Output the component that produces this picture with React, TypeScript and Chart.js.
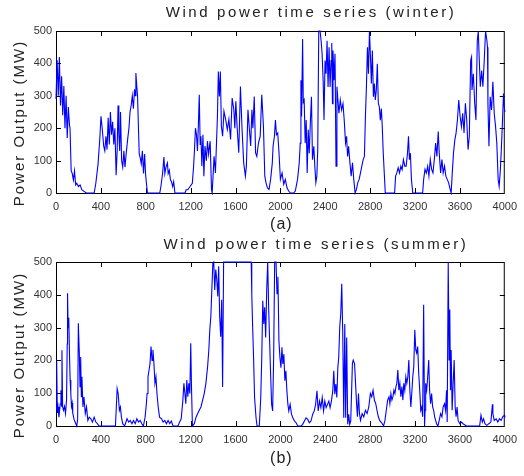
import React, { useEffect, useRef } from "react";
import { Chart, registerables } from "chart.js";
Chart.register(...registerables);

const FONT = '"Liberation Sans", Arial, Helvetica, sans-serif';

const xTickValues = [0, 400, 800, 1200, 1600, 2000, 2400, 2800, 3200, 3600, 4000];
const yTickValues = [0, 100, 200, 300, 400, 500];

const winterTitle = "Wind power time series (winter)";
const summerTitle = "Wind power time series (summer)";
const yAxisTitle = "Power Output (MW)";

const winterT = [
  0, 10, 20, 30, 40, 50, 60, 70, 80, 90, 100, 110, 120, 125, 135, 145, 155, 165, 175, 185,
  200, 215, 230, 250, 270, 340, 355, 375, 390, 401, 413, 425, 435, 445, 455, 465, 475, 485, 495, 505,
  515, 525, 536, 545, 553, 560, 568, 575, 585, 595, 605, 615, 625, 640, 650, 660, 670, 680, 690, 700,
  706, 712, 720, 727, 735, 742, 750, 760, 770, 780, 790, 798, 806, 815, 925, 935, 950, 962, 970, 980,
  993, 1000, 1010, 1020, 1028, 1040, 1049, 1060, 1150, 1160, 1175, 1195, 1215, 1226, 1234, 1243, 1252, 1261, 1270, 1277,
  1285, 1292, 1300, 1310, 1318, 1328, 1340, 1350, 1360, 1374, 1386, 1392, 1409, 1421, 1439, 1447, 1456, 1465, 1474, 1485,
  1497, 1512, 1527, 1541, 1556, 1570, 1585, 1594, 1603, 1614, 1629, 1644, 1658, 1673, 1688, 1697, 1711, 1723, 1735, 1746,
  1755, 1767, 1779, 1790, 1805, 1820, 1834, 1849, 1861, 1872, 1884, 1899, 1913, 1928, 1935, 1947, 1956, 1965, 1976, 1988,
  2000, 2015, 2030, 2044, 2059, 2074, 2089, 2118, 2133, 2153, 2168, 2177, 2183, 2189, 2198, 2204, 2212, 2221, 2230, 2239,
  2248, 2257, 2268, 2277, 2286, 2298, 2307, 2316, 2325, 2333, 2342, 2354, 2363, 2372, 2381, 2389, 2398, 2407, 2416, 2425,
  2434, 2443, 2452, 2458, 2464, 2469, 2478, 2487, 2496, 2504, 2513, 2522, 2534, 2546, 2558, 2569, 2581, 2590, 2599, 2608,
  2620, 2631, 2643, 2654, 2666, 2678, 2690, 2702, 2714, 2726, 2738, 2749, 2758, 2767, 2776, 2785, 2794, 2802, 2811, 2820,
  2829, 2838, 2846, 2855, 2864, 2873, 2882, 2891, 2900, 2908, 2917, 2926, 2935, 3018, 3027, 3038, 3050, 3062, 3074, 3085,
  3097, 3109, 3121, 3133, 3142, 3150, 3159, 3168, 3180, 3268, 3277, 3289, 3301, 3313, 3324, 3336, 3348, 3360, 3372, 3384,
  3395, 3407, 3416, 3428, 3440, 3451, 3463, 3475, 3487, 3499, 3510, 3522, 3534, 3543, 3555, 3566, 3578, 3590, 3602, 3614,
  3625, 3637, 3649, 3661, 3673, 3684, 3696, 3704, 3708, 3720, 3732, 3743, 3755, 3764, 3773, 3782, 3794, 3805, 3817, 3829,
  3841, 3846, 3850, 3859, 3870, 3882, 3894, 3906, 3918, 3929, 3941, 3950, 3959, 3968, 3980, 3989, 3998, 4000,
];
const winterMW = [
  290, 410, 300, 420, 270, 360, 240, 330, 200, 300, 170, 265, 210, 200, 70, 60, 40, 68, 25, 30,
  20, 25, 10, 5, 0, 0, 30, 90, 165, 237, 195, 145, 130, 175, 134, 232, 150, 250, 180, 220,
  150, 200, 55, 130, 270, 180, 130, 250, 100, 80, 130, 80, 120, 170, 200, 250, 270, 300, 260, 320,
  300, 370, 330, 300, 200, 120, 110, 90, 130, 60, 120, 60, 30, 0, 0, 20, 60, 111, 60, 80,
  93, 60, 70, 40, 37, 20, 35, 0, 0, 10, 10, 20, 30, 80, 130, 200, 180, 130, 220, 303,
  150, 175, 83, 180, 52, 145, 100, 160, 120, 160, 10, 0, 113, 62, 237, 375, 298, 375, 206, 175,
  252, 227, 196, 227, 165, 293, 257, 200, 283, 206, 124, 329, 200, 93, 52, 83, 257, 200, 145, 257,
  200, 298, 124, 113, 155, 175, 303, 206, 52, 32, 16, 11, 42, 93, 145, 175, 225, 180, 185, 123,
  42, 62, 27, 42, 16, 6, 0, 0, 6, 42, 93, 154, 348, 236, 475, 280, 287, 154, 225, 62,
  195, 123, 225, 297, 103, 144, 83, 32, 52, 134, 500, 500, 470, 430, 348, 225, 409, 368, 470, 327,
  450, 327, 409, 463, 276, 440, 348, 430, 83, 328, 287, 246, 287, 256, 276, 225, 154, 175, 113, 144,
  93, 52, 93, 42, 0, 11, 32, 42, 62, 83, 103, 113, 236, 328, 450, 368, 500, 430, 338, 440,
  297, 338, 287, 317, 399, 277, 266, 225, 261, 205, 123, 62, 0, 0, 52, 62, 78, 62, 83, 72,
  103, 83, 83, 123, 175, 103, 123, 42, 0, 0, 42, 73, 62, 83, 52, 103, 73, 62, 103, 154,
  113, 190, 123, 62, 103, 62, 83, 52, 42, 32, 16, 0, 73, 123, 164, 185, 225, 287, 236, 205,
  246, 185, 277, 225, 134, 175, 409, 420, 318, 368, 277, 225, 470, 500, 409, 328, 378, 328, 409, 500,
  470, 450, 277, 144, 297, 256, 343, 246, 205, 154, 42, 21, 62, 123, 225, 307, 256, 250,
];

const summerT = [
  0, 6, 12, 18, 26, 38, 44, 50, 53, 59, 67, 76, 85, 94, 100, 103, 108, 114, 120, 126,
  132, 138, 144, 149, 161, 173, 185, 193, 199, 208, 214, 220, 226, 231, 240, 249, 261, 272, 284, 296,
  311, 325, 340, 355, 369, 384, 530, 545, 554, 565, 574, 583, 595, 612, 633, 648, 662, 677, 691, 706,
  721, 735, 750, 765, 779, 794, 803, 812, 820, 829, 838, 847, 856, 864, 873, 882, 891, 900, 911, 923,
  941, 955, 970, 984, 999, 1014, 1028, 1043, 1087, 1102, 1116, 1131, 1140, 1149, 1157, 1166, 1175, 1184, 1193, 1201,
  1207, 1216, 1233, 1248, 1263, 1277, 1292, 1307, 1321, 1336, 1351, 1362, 1371, 1380, 1389, 1398, 1406, 1415, 1424, 1433,
  1442, 1450, 1459, 1468, 1477, 1485, 1494, 1740, 1745, 1752, 1761, 1770, 1783, 1792, 1812, 1825, 1834, 1843, 1852, 1860,
  1869, 1878, 1887, 1896, 1904, 1913, 1922, 1931, 1940, 1949, 1961, 1970, 1978, 1987, 1996, 2005, 2014, 2022, 2031, 2040,
  2049, 2058, 2067, 2075, 2087, 2099, 2111, 2126, 2140, 2155, 2185, 2199, 2214, 2229, 2244, 2258, 2273, 2288, 2302, 2314,
  2326, 2337, 2349, 2361, 2373, 2385, 2396, 2408, 2420, 2432, 2443, 2455, 2467, 2476, 2485, 2494, 2503, 2512, 2520, 2529,
  2538, 2547, 2556, 2565, 2574, 2582, 2591, 2600, 2609, 2618, 2627, 2642, 2649, 2661, 2670, 2679, 2687, 2696, 2705, 2714,
  2729, 2743, 2758, 2773, 2788, 2802, 2814, 2826, 2838, 2850, 2861, 2873, 2885, 2897, 2909, 2920, 2932, 2944, 2956, 2968,
  2976, 2985, 2994, 3003, 3012, 3021, 3030, 3038, 3047, 3056, 3065, 3074, 3083, 3092, 3100, 3109, 3118, 3127, 3136, 3145,
  3154, 3163, 3171, 3180, 3189, 3198, 3207, 3215, 3224, 3233, 3242, 3251, 3260, 3268, 3277, 3285, 3290, 3295, 3304, 3313,
  3322, 3330, 3339, 3348, 3357, 3366, 3375, 3384, 3392, 3404, 3416, 3428, 3440, 3451, 3463, 3472, 3481, 3487, 3496, 3504,
  3510, 3516, 3522, 3531, 3540, 3549, 3558, 3566, 3575, 3584, 3599, 3614, 3628, 3658, 3776, 3788, 3800, 3811, 3823, 3841,
  3858, 3876, 3890, 3894, 3906, 3923, 3938, 3953, 3968, 3982, 3997, 4000,
];
const summerMW = [
  50, 200, 40, 58, 27, 68, 109, 60, 231, 58, 48, 60, 38, 80, 250, 405, 300, 330, 220, 140,
  100, 60, 70, 40, 20, 10, 0, 20, 313, 221, 120, 210, 89, 150, 58, 89, 38, 58, 17, 27,
  22, 12, 27, 12, 7, 0, 0, 114, 99, 48, 58, 27, 7, 0, 22, 12, 17, 7, 17, 7,
  22, 12, 17, 7, 0, 27, 58, 99, 150, 170, 190, 242, 200, 232, 190, 130, 150, 99, 58, 27,
  22, 12, 17, 7, 17, 7, 15, 0, 0, 12, 22, 79, 130, 99, 68, 140, 89, 130, 99, 252,
  130, 0, 7, 27, 38, 48, 58, 79, 99, 130, 180, 231, 293, 333, 415, 497, 500, 415, 477, 446,
  395, 487, 333, 272, 385, 119, 500, 500, 403, 311, 209, 87, 25, 0, 0, 87, 209, 382, 311, 362,
  270, 413, 500, 352, 260, 158, 66, 46, 209, 500, 500, 403, 455, 260, 209, 178, 240, 189, 219, 138,
  168, 107, 66, 46, 66, 36, 25, 15, 10, 0, 0, 5, 15, 25, 20, 10, 15, 36, 46, 66,
  107, 46, 76, 56, 87, 46, 76, 56, 66, 76, 56, 76, 107, 168, 97, 128, 87, 178, 209, 301,
  342, 434, 280, 25, 311, 25, 270, 5, 36, 5, 15, 190, 201, 190, 130, 68, 28, 99, 38, 17,
  38, 28, 48, 38, 58, 99, 89, 109, 79, 68, 48, 28, 17, 12, 7, 0, 17, 48, 79, 89,
  68, 99, 79, 89, 109, 99, 120, 130, 171, 109, 130, 89, 120, 79, 130, 109, 150, 130, 150, 201,
  109, 58, 99, 150, 181, 293, 232, 222, 242, 160, 109, 48, 58, 28, 370, 0, 48, 130, 109, 150,
  201, 109, 68, 99, 58, 48, 28, 17, 7, 0, 17, 38, 28, 58, 68, 48, 109, 12, 500, 201,
  355, 109, 232, 48, 130, 201, 58, 28, 58, 17, 7, 12, 7, 0, 0, 33, 12, 22, 7, 2,
  7, 12, 66, 38, 17, 22, 12, 22, 17, 28, 33, 25,
];

function decorPlugin(title: string, sub: string, titleX: number, titleY: number, subY: number) {
  return {
    id: "decor",
    beforeDatasetsDraw(chart: any) {
      const { ctx, chartArea: a, scales } = chart;
      ctx.save();
      ctx.strokeStyle = "#000";
      ctx.lineWidth = 1;
      ctx.strokeRect(a.left + 0.5, a.top + 0.5, a.right - a.left - 1, a.bottom - a.top);
      ctx.beginPath();
      const tl = 5;
      xTickValues.forEach((v) => {
        if (v === 0 || v === 4000) return;
        const px = Math.round(scales.x.getPixelForValue(v)) + 0.5;
        ctx.moveTo(px, a.top);
        ctx.lineTo(px, a.top + tl);
        ctx.moveTo(px, a.bottom);
        ctx.lineTo(px, a.bottom - tl);
      });
      yTickValues.forEach((v) => {
        if (v === 0 || v === 500) return;
        const py = Math.round(scales.y.getPixelForValue(v)) + 0.5;
        ctx.moveTo(a.left, py);
        ctx.lineTo(a.left + tl, py);
        ctx.moveTo(a.right, py);
        ctx.lineTo(a.right - tl, py);
      });
      ctx.stroke();
      ctx.restore();
    },
    afterDraw(chart: any) {
      const { ctx, chartArea: a } = chart;
      ctx.save();
      ctx.fillStyle = "#222";
      ctx.textAlign = "center";
      ctx.textBaseline = "alphabetic";
      ctx.font = `15px ${FONT}`;
      (ctx as any).letterSpacing = "2.6px";
      ctx.fillText(title, titleX, titleY);

      ctx.font = `16px ${FONT}`;
      (ctx as any).letterSpacing = "1px";
      ctx.textBaseline = "middle";
      ctx.fillText(sub, (a.left + a.right) / 2 + 1, subY);

      ctx.save();
      ctx.font = `15px ${FONT}`;
      (ctx as any).letterSpacing = "2px";
      ctx.translate(20, (a.top + a.bottom) / 2 + 11);
      ctx.rotate(-Math.PI / 2);
      ctx.fillText(yAxisTitle, 0, 0);
      ctx.restore();
      ctx.restore();
    },
  };
}

function buildChart(
  canvas: HTMLCanvasElement,
  t: number[],
  v: number[],
  title: string,
  sub: string,
  padTop: number,
  padBottom: number,
  titleX: number,
  titleY: number,
  subY: number
) {
  const pts = t.map((x, i) => ({ x, y: v[i] }));
  return new Chart(canvas, {
    type: "line",
    data: {
      datasets: [
        {
          data: pts,
          borderColor: "#0000ff",
          borderWidth: 1.1,
          pointRadius: 0,
          tension: 0,
          fill: false,
          clip: 2,
        },
      ],
    },
    options: {
      animation: false,
      responsive: false,
      devicePixelRatio: 1,
      events: [],
      layout: { padding: { left: 0, right: 15, top: padTop, bottom: padBottom } },
      plugins: { legend: { display: false }, tooltip: { enabled: false }, title: { display: false } },
      scales: {
        x: {
          type: "linear",
          min: 0,
          max: 4000,
          afterFit: (s: any) => {
            s.height = 20;
          },
          afterBuildTicks: (s: any) => {
            s.ticks = xTickValues.map((value) => ({ value }));
          },
          grid: { display: false, drawTicks: false },
          border: { display: false },
          ticks: {
            autoSkip: false,
            maxRotation: 0,
            padding: 7,
            color: "#333",
            font: { family: FONT, size: 11 },
            callback: (val: any) => String(val),
          },
        },
        y: {
          min: 0,
          max: 500,
          afterFit: (s: any) => {
            s.width = 56;
          },
          afterBuildTicks: (s: any) => {
            s.ticks = yTickValues.map((value) => ({ value }));
          },
          grid: { display: false, drawTicks: false },
          border: { display: false },
          ticks: {
            padding: 4,
            color: "#333",
            font: { family: FONT, size: 11 },
            callback: (val: any) => String(val),
          },
        },
      },
    },
    plugins: [decorPlugin(title, sub, titleX, titleY, subY)],
  } as any);
}

export default function App() {
  const c1 = useRef<HTMLCanvasElement>(null);
  const c2 = useRef<HTMLCanvasElement>(null);
  useEffect(() => {
    const ch1 = buildChart(c1.current!, winterT, winterMW, winterTitle, "(a)", 31, 25, 311, 17, 225);
    const ch2 = buildChart(c2.current!, summerT, summerMW, summerTitle, "(b)", 24, 30, 316, 11, 221);
    return () => {
      ch1.destroy();
      ch2.destroy();
    };
  }, []);
  return (
    <div style={{ position: "absolute", left: 0, top: 0, width: 524, height: 476, background: "#fff" }}>
      <canvas ref={c1} width={524} height={238} style={{ display: "block", width: 524, height: 238 }} />
      <canvas ref={c2} width={524} height={238} style={{ display: "block", width: 524, height: 238 }} />
    </div>
  );
}
